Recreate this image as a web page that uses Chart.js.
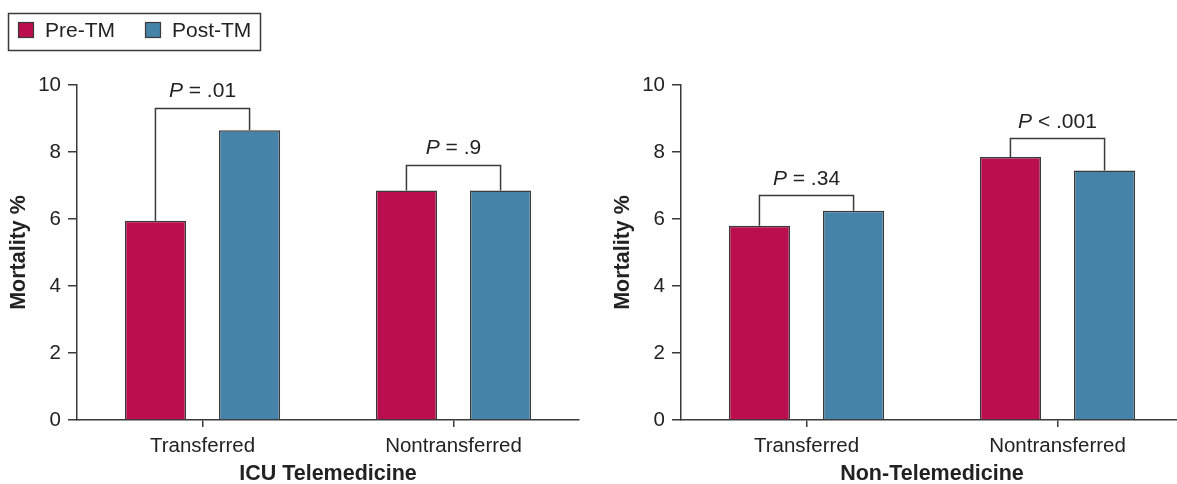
<!DOCTYPE html>
<html>
<head>
<meta charset="utf-8">
<script src="https://cdn.jsdelivr.net/npm/chart.js@4.4.0/dist/chart.umd.min.js"></script>
<style>
  html, body { margin: 0; padding: 0; background: #fff; overflow: hidden; width: 1177px; height: 484px; }
  #left { position: absolute; left: 0; top: 0; width: 590px; height: 484px; }
  #right { position: absolute; left: 590px; top: 0; width: 600px; height: 484px; }
</style>
</head>
<body>
<div id="left"><canvas id="icu-chart"></canvas></div>
<div id="right"><canvas id="non-chart"></canvas></div>
<script>
const categories = ["Transferred", "Nontransferred"];
const seriesLabels = ["Pre-TM", "Post-TM"];

const icuPre = [5.95, 6.85];
const icuPost = [8.65, 6.85];
const nonPre = [5.8, 7.85];
const nonPost = [6.25, 7.45];

const icuBracketLevels = [9.3, 7.6];
const nonBracketLevels = [6.7, 8.4];
const icuPValues = [["=", ".01"], ["=", ".9"]];
const nonPValues = [["=", ".34"], ["<", ".001"]];

const yMin = 0;
const yMax = 10;
const yStep = 2;

const preColor = "#BA0E4E";
const postColor = "#4683A8";
const inkColor = "#3a3a3a";
const textColor = "#222";
const fontFamily = "'Liberation Sans', Arial, Helvetica, sans-serif";

Chart.defaults.font.family = fontFamily;
Chart.defaults.color = textColor;

// bracket + P value above each pair of bars
function makeBracketPlugin(levels, pValues) {
  return {
    id: "pBrackets",
    afterDatasetsDraw(chart) {
      const { ctx } = chart;
      const yScale = chart.scales.y;
      const preBars = chart.getDatasetMeta(0).data;
      const postBars = chart.getDatasetMeta(1).data;
      ctx.save();
      ctx.strokeStyle = inkColor;
      ctx.lineWidth = 1.5;
      levels.forEach((level, i) => {
        const x1 = preBars[i].x;
        const x2 = postBars[i].x;
        const top = yScale.getPixelForValue(level);
        ctx.beginPath();
        ctx.moveTo(x1, preBars[i].y);
        ctx.lineTo(x1, top);
        ctx.lineTo(x2, top);
        ctx.lineTo(x2, postBars[i].y);
        ctx.stroke();

        const [op, val] = pValues[i];
        const rest = " " + op + " " + val;
        ctx.font = "italic 21px " + fontFamily;
        const pWidth = ctx.measureText("P").width;
        ctx.font = "21px " + fontFamily;
        const restWidth = ctx.measureText(rest).width;
        const x = (x1 + x2) / 2 - (pWidth + restWidth) / 2;
        const baseY = top - 11;
        ctx.fillStyle = textColor;
        ctx.textAlign = "left";
        ctx.textBaseline = "alphabetic";
        ctx.font = "italic 21px " + fontFamily;
        ctx.fillText("P", x, baseY);
        ctx.font = "21px " + fontFamily;
        ctx.fillText(rest, x + pWidth, baseY);
      });
      ctx.restore();
    },
  };
}

// boxed legend in the top left corner
const boxedLegend = {
  id: "boxedLegend",
  afterDraw(chart) {
    const { ctx } = chart;
    const items = [
      { x: 18, textX: 45 },
      { x: 145, textX: 172 },
    ];
    ctx.save();
    ctx.strokeStyle = inkColor;
    ctx.lineWidth = 1.5;
    ctx.strokeRect(8.5, 13.5, 252, 37);
    chart.data.datasets.forEach((ds, i) => {
      const it = items[i];
      ctx.fillStyle = ds.backgroundColor;
      ctx.fillRect(it.x, 22, 16, 16);
      ctx.lineWidth = 1.2;
      ctx.strokeRect(it.x + 0.5, 22.5, 15, 15);
      ctx.fillStyle = textColor;
      ctx.font = "21px " + fontFamily;
      ctx.textBaseline = "middle";
      ctx.textAlign = "left";
      ctx.fillText(ds.label, it.textX, 31);
    });
    ctx.restore();
  },
};

function buildChart(canvasId, pre, post, groupTitle, padding, levels, pValues, extraPlugins) {
  return new Chart(document.getElementById(canvasId), {
    type: "bar",
    data: {
      labels: categories,
      datasets: [
        {
          label: seriesLabels[0],
          data: pre,
          backgroundColor: preColor,
          borderColor: inkColor,
          borderWidth: 1.5,
          borderSkipped: "start",
          categoryPercentage: 0.75,
          barPercentage: 0.65,
        },
        {
          label: seriesLabels[1],
          data: post,
          backgroundColor: postColor,
          borderColor: inkColor,
          borderWidth: 1.5,
          borderSkipped: "start",
          categoryPercentage: 0.75,
          barPercentage: 0.65,
        },
      ],
    },
    options: {
      responsive: true,
      maintainAspectRatio: false,
      animation: false,
      layout: { padding },
      plugins: {
        legend: { display: false },
        tooltip: { enabled: false },
      },
      scales: {
        x: {
          grid: {
            offset: false,
            drawOnChartArea: false,
            drawTicks: true,
            tickLength: 7,
            color: inkColor,
            lineWidth: 1.5,
          },
          border: { color: inkColor, width: 1.5 },
          ticks: { font: { size: 20.5 }, color: textColor, padding: 7 },
          title: {
            display: true,
            text: groupTitle,
            font: { size: 21.5, weight: "bold" },
            color: textColor,
            padding: { top: 0, bottom: 0 },
          },
          afterFit: (scale) => { scale.height = 67; },
        },
        y: {
          min: yMin,
          max: yMax,
          grid: {
            drawOnChartArea: false,
            drawTicks: true,
            tickLength: 9,
            color: inkColor,
            lineWidth: 1.5,
          },
          border: { color: inkColor, width: 1.5 },
          ticks: { stepSize: yStep, font: { size: 20.5 }, color: textColor, padding: 7 },
          title: {
            display: true,
            text: "Mortality %",
            font: { size: 21.5, weight: "bold" },
            color: textColor,
            padding: { top: 6, bottom: 0 },
          },
          afterFit: (scale) => { scale.width = 77; },
        },
      },
    },
    plugins: [makeBracketPlugin(levels, pValues)].concat(extraPlugins),
  });
}

buildChart("icu-chart", icuPre, icuPost, "ICU Telemedicine",
  { top: 85, left: 0, right: 11, bottom: -3 }, icuBracketLevels, icuPValues, [boxedLegend]);
buildChart("non-chart", nonPre, nonPost, "Non-Telemedicine",
  { top: 85, left: 14, right: 7, bottom: -3 }, nonBracketLevels, nonPValues, []);
</script>
</body>
</html>
